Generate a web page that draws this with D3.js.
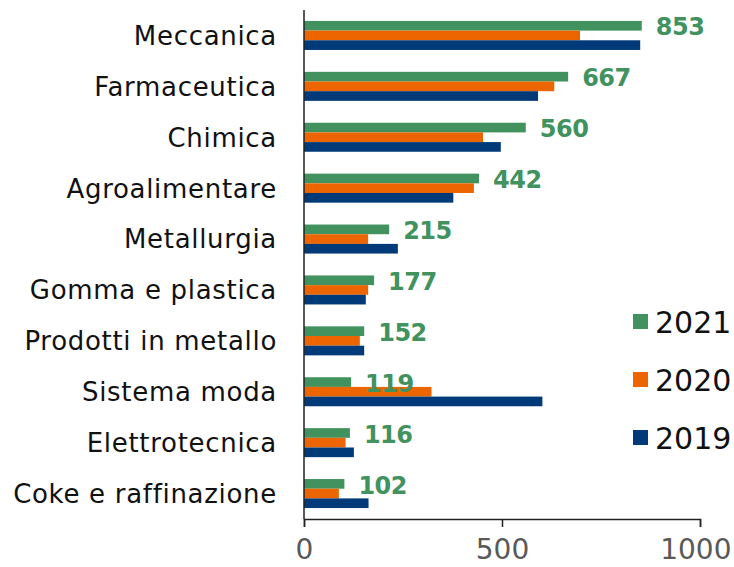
<!DOCTYPE html>
<html>
    <head>
        <meta charset="utf-8">
        <title></title>
        <script src="https://d3js.org/d3.v7.min.js"></script>
        <style>
            body { margin: 0; background: #fff; }
            svg { display: block; }
            text { font-family: "DejaVu Sans", sans-serif; }
        </style>
    </head>
    <body>
        <svg width="734" height="567"></svg>
        <script>
            var categories = ["Meccanica", "Farmaceutica", "Chimica", "Agroalimentare", "Metallurgia",
                "Gomma e plastica", "Prodotti in metallo", "Sistema moda", "Elettrotecnica", "Coke e raffinazione"];
            var years = ["2021", "2020", "2019"];
            var values2021 = [853, 667, 560, 442, 215, 177, 152, 119, 116, 102];
            var values2020 = [697, 632, 452, 429, 162, 162, 141, 322, 105, 88];
            var values2019 = [849, 591, 497, 377, 237, 156, 152, 602, 126, 163];
            var xTicks = [0, 500, 1000];

            var colors = {"2021": "#41925e", "2020": "#ec6500", "2019": "#003a78"};
            var series = {"2021": values2021, "2020": values2020, "2019": values2019};

            var svg = d3.select("svg");
            // plot edges (window.top is reserved, so use other names)
            var plotLeft = 304, plotRight = 700, plotTop = 10, plotBottom = 519;

            var x = d3.scaleLinear().domain([0, 1000]).range([plotLeft, plotRight]);
            var y = d3.scaleBand().domain(categories).range([plotTop, plotBottom])
                .paddingInner(0.43).paddingOuter(0.215);
            var y1 = d3.scaleBand().domain(years).range([0, y.bandwidth()]);

            // bars
            var groups = svg.append("g").selectAll("g")
                .data(categories)
                .enter().append("g")
                .attr("transform", function(d) { return "translate(0," + y(d) + ")"; });

            groups.selectAll("rect")
                .data(function(d, i) {
                    return years.map(function(yr) { return {year: yr, value: series[yr][i]}; });
                })
                .enter().append("rect")
                .attr("x", x(0))
                .attr("y", function(d) { return y1(d.year); })
                .attr("width", function(d) { return x(d.value) - x(0); })
                .attr("height", y1.bandwidth())
                .attr("fill", function(d) { return colors[d.year]; });

            // value labels for 2021
            groups.append("text")
                .attr("x", function(d, i) { return x(values2021[i]) + 14; })
                .attr("y", y1("2021") + y1.bandwidth() / 2 + 1)
                .attr("dy", "0.36em")
                .attr("font-size", "24px")
                .attr("font-weight", "bold")
                .attr("letter-spacing", "-0.5px")
                .attr("fill", colors["2021"])
                .text(function(d, i) { return values2021[i]; });

            // category labels
            svg.append("g").selectAll("text")
                .data(categories)
                .enter().append("text")
                .attr("x", 277)
                .attr("y", function(d) { return y(d) + y.bandwidth() / 2; })
                .attr("dy", "0.36em")
                .attr("text-anchor", "end")
                .attr("font-size", "26px")
                .attr("letter-spacing", "0.7px")
                .attr("fill", "#111")
                .text(function(d) { return d; });

            // y axis line
            svg.append("line")
                .attr("x1", plotLeft).attr("x2", plotLeft)
                .attr("y1", plotTop).attr("y2", plotBottom)
                .attr("stroke", "#222").attr("stroke-width", 1.5);

            // x axis
            var xAxis = svg.append("g")
                .attr("transform", "translate(0," + plotBottom + ")")
                .call(d3.axisBottom(x).tickValues(xTicks).tickSize(8).tickFormat(d3.format("d")));
            xAxis.select(".domain").attr("stroke", "#222").attr("stroke-width", 1.5);
            xAxis.selectAll(".tick line").attr("stroke", "#222").attr("stroke-width", 1.5);
            xAxis.selectAll(".tick text")
                .attr("font-family", "DejaVu Sans, sans-serif")
                .attr("font-size", "28px")
                .attr("fill", "#595959")
                .attr("y", 20)
                .attr("dy", "0.71em")
                .attr("text-anchor", function(d) { return d === 1000 ? "end" : "middle"; })
                .attr("dx", function(d) { return d === 1000 ? 31 : 0; });

            // legend
            var legend = svg.append("g").selectAll("g")
                .data(years)
                .enter().append("g")
                .attr("transform", function(d, i) { return "translate(633," + (314 + i * 58) + ")"; });
            legend.append("rect")
                .attr("width", 15).attr("height", 15)
                .attr("fill", function(d) { return colors[d]; });
            legend.append("text")
                .attr("x", 22).attr("y", 8)
                .attr("dy", "0.36em")
                .attr("font-size", "30px")
                .attr("fill", "#111")
                .text(function(d) { return d; });
        </script>
    </body>
</html>
